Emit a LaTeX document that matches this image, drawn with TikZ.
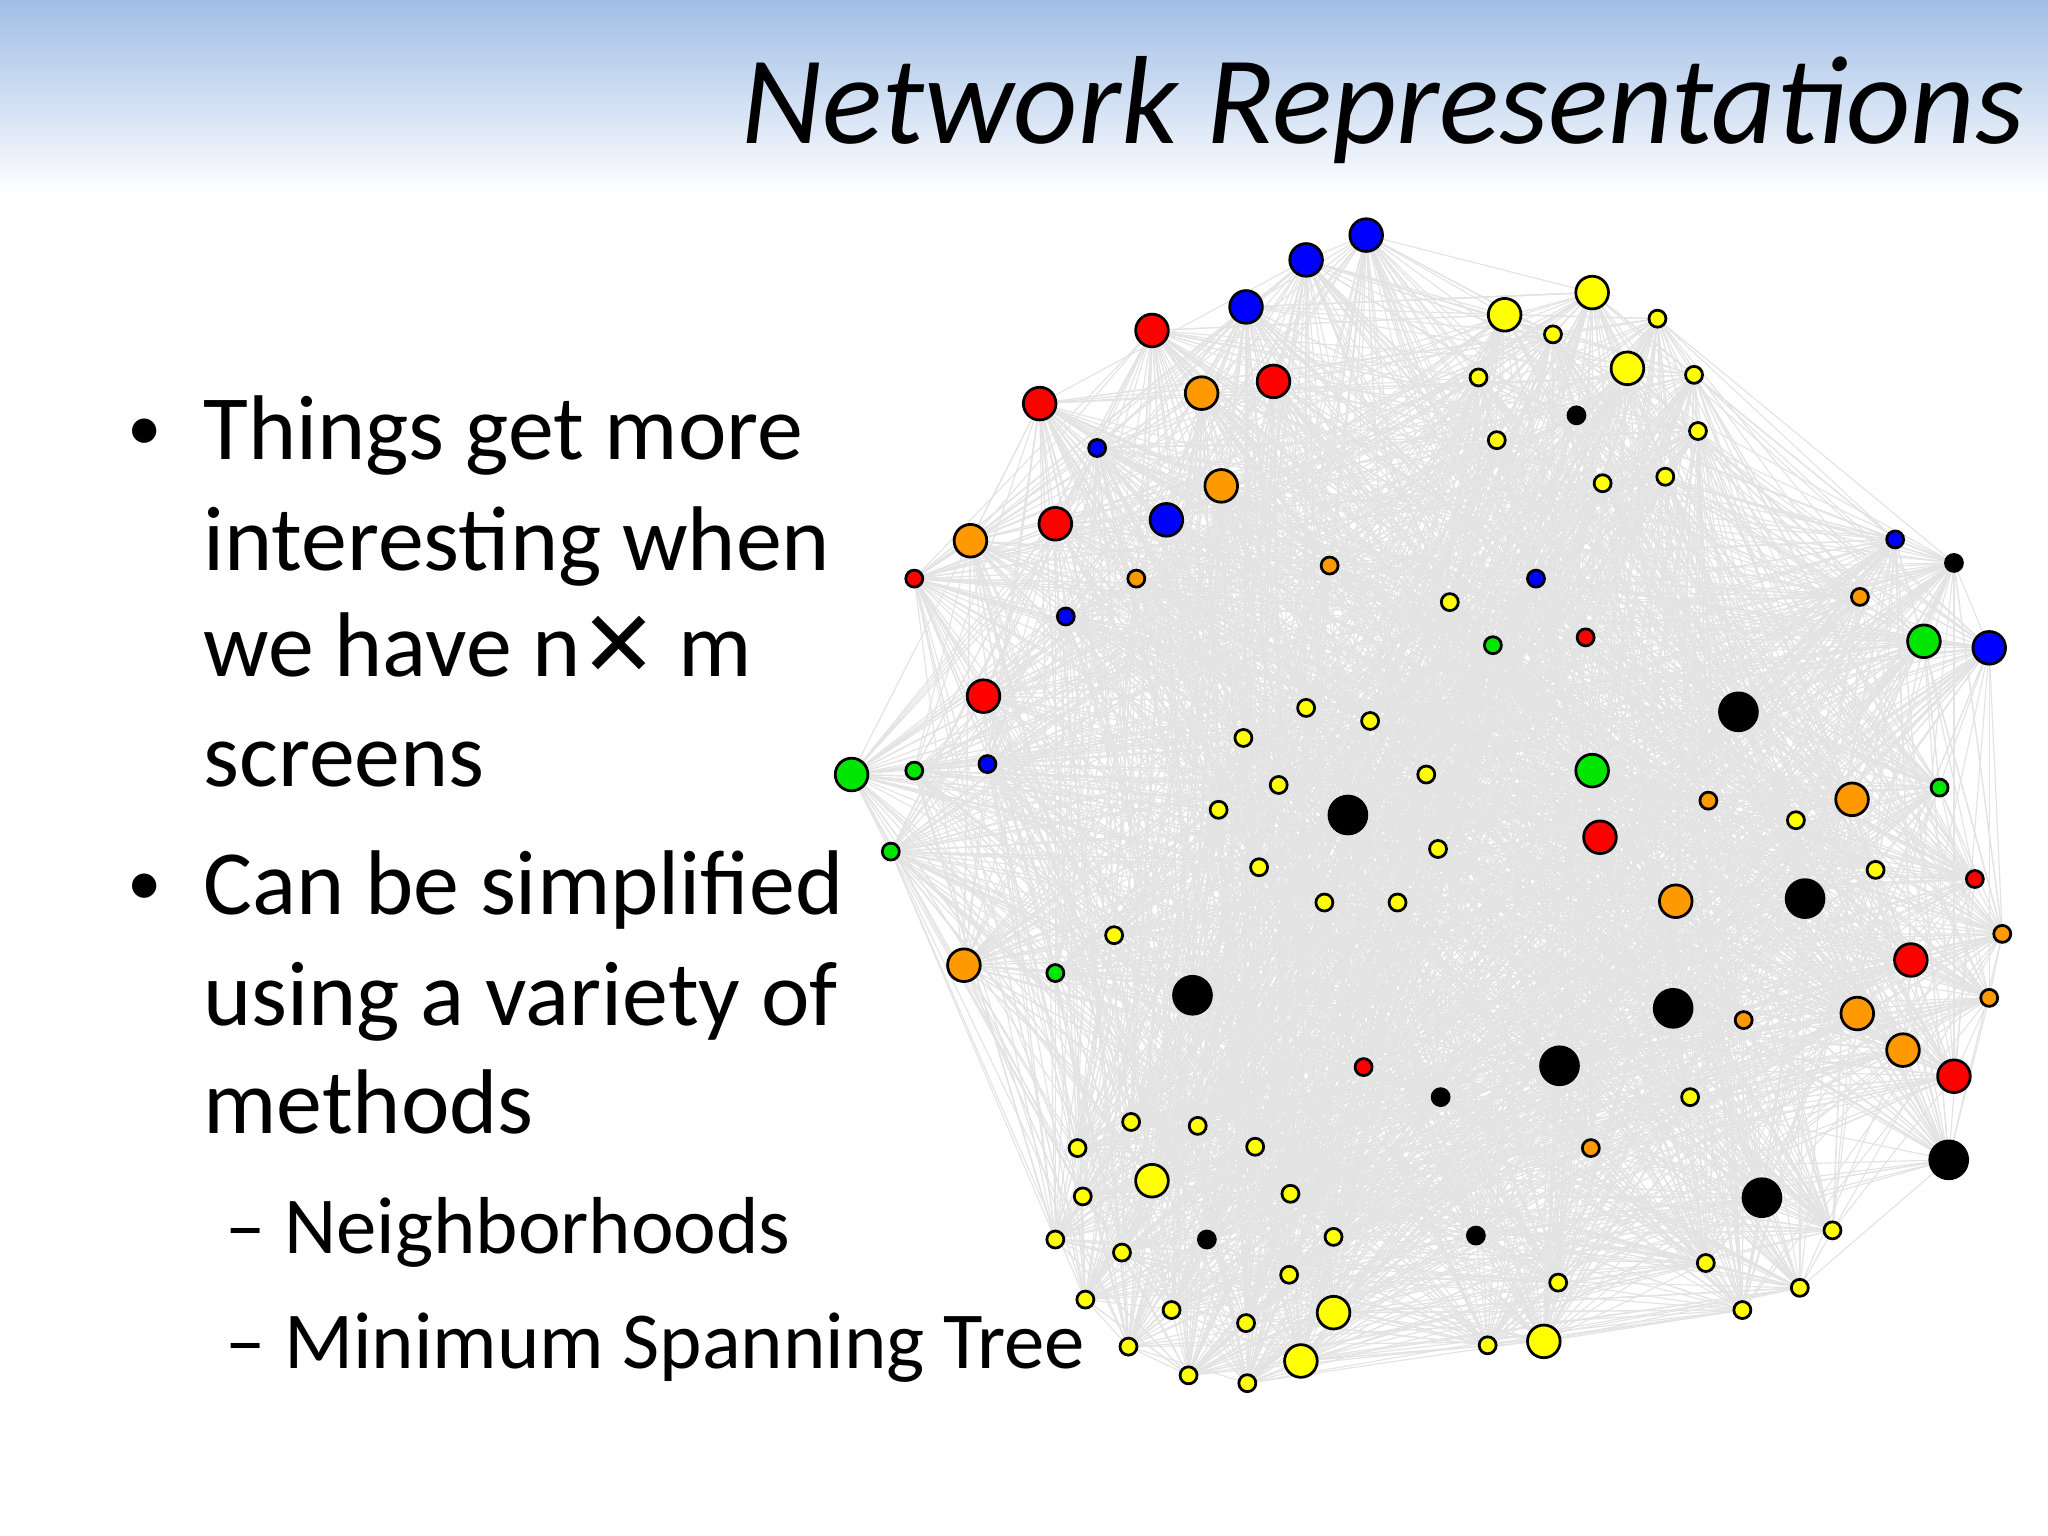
\documentclass[tikz,border=0pt]{standalone}
\usepackage{fontspec}
\setmainfont{Carlito}
\newfontfamily\djv{DejaVu Sans}
\usetikzlibrary{backgrounds}
\definecolor{myorange}{RGB}{255,153,0}
\definecolor{mygreen}{RGB}{0,230,0}
\definecolor{myyellow}{RGB}{255,255,0}
\definecolor{topblue}{RGB}{160,190,230}
\begin{document}
\begin{tikzpicture}[x=0.01cm,y=-0.01cm,
  vtx/.style={circle,draw=black,line width=0.6pt,inner sep=0pt},
  edge/.style={draw=black!11,line width=0.25pt},
  body/.style={anchor=base west,font=\fontsize{20}{24}\selectfont,inner sep=0pt},
  bul/.style={anchor=base west,font=\fontsize{15}{18}\selectfont,inner sep=0pt},
  sub/.style={anchor=base west,font=\fontsize{17.6}{20}\selectfont,inner sep=0pt}]
\useasboundingbox (0,0) rectangle (1568,1176);
\fill[top color=topblue,bottom color=white] (0,0) rectangle (1568,150);
\node[anchor=base east,inner sep=0pt,font=\fontsize{27.3}{30}\selectfont\itshape] (title) at (1550,110) {Network Representations};
\foreach [count=\i] \x/\y/\r/\c in {
1046/180/12.5/blue,1000/199/12.5/blue,954/235/12.5/blue,893/398/12.5/blue,840/343/6.5/blue,816/472/6.5/blue,756/585/6.5/blue,1176/443/6.5/blue,1451/413/6.5/blue,1523/496/12.5/blue,
882/253/12.5/red,796/309/12.5/red,975/292/12.5/red,808/401/12.5/red,700/443/6.5/red,753/533/12.5/red,1214/488/6.5/red,1225/641/12.5/red,1512/673/6.5/red,1463/735/12.5/red,1496/824/12.5/red,1044/817/6.5/red,
920/301/12.5/myorange,935/372/12.5/myorange,743/414/12.5/myorange,870/443/6.5/myorange,1018/433/6.5/myorange,1424/457/6.5/myorange,1308/613/6.5/myorange,1418/612/12.5/myorange,1283/690/12.5/myorange,1533/715/6.5/myorange,1422/776/12.5/myorange,1523/764/6.5/myorange,1335/781/6.5/myorange,1457/804/12.5/myorange,738/739/12.5/myorange,1218/879/6.5/myorange,
652/593/12.5/mygreen,700/590/6.5/mygreen,682/652/6.5/mygreen,1143/494/6.5/mygreen,1219/590/12.5/mygreen,1473/491/12.5/mygreen,1485/603/6.5/mygreen,808/745/6.5/mygreen,
1207/318/6.5/black,1496/431/6.5/black,1331/545/14.5/black,1032/624/14.5/black,1382/688/14.5/black,913/762/14.5/black,1281/772/14.5/black,1194/816/14.5/black,1103/840/6.5/black,1492/888/14.5/black,1349/917/14.5/black,924/949/6.5/black,1130/946/6.5/black,
1152/241/12.5/myyellow,1219/224/12.5/myyellow,1246/282/12.5/myyellow,882/904/12.5/myyellow,1021/1005/12.5/myyellow,996/1042/12.5/myyellow,1182/1027/12.5/myyellow,
1189/256/6.5/myyellow,1269/244/6.5/myyellow,1132/289/6.5/myyellow,1297/287/6.5/myyellow,1146/337/6.5/myyellow,1300/330/6.5/myyellow,1227/370/6.5/myyellow,1275/365/6.5/myyellow,1110/461/6.5/myyellow,1000/542/6.5/myyellow,1049/552/6.5/myyellow,952/565/6.5/myyellow,979/601/6.5/myyellow,1092/593/6.5/myyellow,933/620/6.5/myyellow,1375/628/6.5/myyellow,1101/650/6.5/myyellow,964/664/6.5/myyellow,1436/666/6.5/myyellow,1014/691/6.5/myyellow,1070/691/6.5/myyellow,853/716/6.5/myyellow,1294/840/6.5/myyellow,866/859/6.5/myyellow,917/862/6.5/myyellow,825/879/6.5/myyellow,961/878/6.5/myyellow,829/916/6.5/myyellow,988/914/6.5/myyellow,808/949/6.5/myyellow,1021/947/6.5/myyellow,859/959/6.5/myyellow,987/976/6.5/myyellow,1403/942/6.5/myyellow,1306/967/6.5/myyellow,1193/982/6.5/myyellow,831/995/6.5/myyellow,897/1003/6.5/myyellow,1378/986/6.5/myyellow,1334/1003/6.5/myyellow,954/1013/6.5/myyellow,864/1031/6.5/myyellow,1139/1030/6.5/myyellow,910/1053/6.5/myyellow,955/1059/6.5/myyellow}
{\node[vtx,fill=\c,minimum size=2*\r*0.01cm] (v\i) at (\x,\y) {}; \xdef\NN{\i}}
\begin{scope}[on background layer]
\pgfmathsetseed{7}
\foreach \i in {1,...,\NN}{
  \foreach \k in {1,...,28}{
    \pgfmathtruncatemacro\j{random(1,\NN)}
    \draw[edge] (v\i.center) -- (v\j.center);
  }
}
\end{scope}
\node[bul] (b1) at (97,345) {•};
\node[body] (t1) at (155,352) {Things get more};
\node[body] (t2) at (155,437) {interesting when};
\node[body] (t3) at (155,518) {we have n{\djv ✕} m};
\node[body] (t4) at (155,602) {screens};
\node[bul] (b2) at (97,693) {•};
\node[body] (t5) at (155,700) {Can be simplified};
\node[body] (t6) at (155,785) {using a variety of};
\node[body] (t7) at (155,868) {methods};
\node[sub] (s1) at (172,960) {– Neighborhoods};
\node[sub] (s2) at (172,1048) {– Minimum Spanning Tree};
\end{tikzpicture}
\end{document}
